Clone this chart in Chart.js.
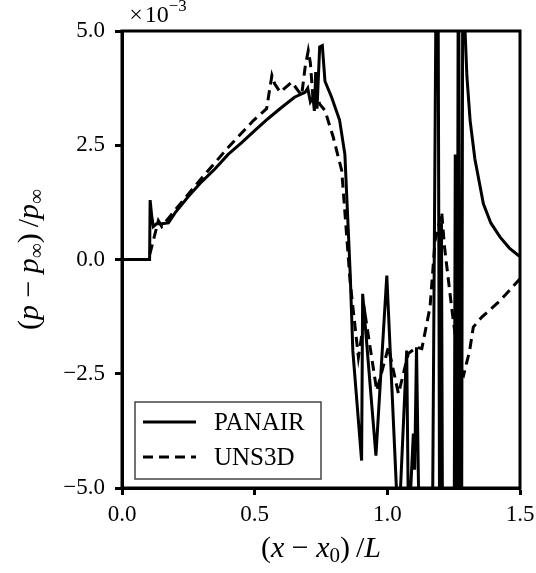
<!DOCTYPE html>
<html>
<head>
<meta charset="utf-8">
<script src="https://cdn.jsdelivr.net/npm/chart.js@4.4.1/dist/chart.umd.min.js"></script>
<style>
  html, body { margin: 0; padding: 0; background: #fff; }
  #wrap { width: 536px; height: 573px; }
</style>
</head>
<body>
<div id="wrap"><canvas id="chart"></canvas></div>
<script>
// values in units of 1e-3
const panairX = [
    0.00, 0.104, 0.106, 0.112, 0.118, 0.13, 0.15, 0.175, 0.20, 0.25, 0.30, 0.35,
    0.40, 0.45, 0.50, 0.55, 0.60, 0.65, 0.69, 0.70, 0.71, 0.72, 0.725, 0.73,
    0.735, 0.745, 0.755, 0.765, 0.79, 0.82, 0.84, 0.85, 0.86, 0.87, 0.903, 0.907,
    0.957, 0.998, 1.042, 1.073, 1.08, 1.098, 1.103, 1.11, 1.12, 1.17, 1.187, 1.19,
    1.197, 1.202, 1.204, 1.208, 1.252, 1.256, 1.258, 1.263, 1.268, 1.274, 1.28, 1.286,
    1.293, 1.30, 1.312, 1.33, 1.362, 1.39, 1.425, 1.46, 1.494, 1.50
];
const panairY = [
    0.00, 0.00, 1.30, 0.95, 0.72, 0.78, 0.78, 0.80, 1.02, 1.38, 1.70, 1.98,
    2.30, 2.55, 2.82, 3.08, 3.32, 3.55, 3.66, 3.75, 3.45, 3.55, 3.25, 4.10,
    3.30, 4.65, 4.68, 3.90, 3.55, 3.05, 2.30, 1.00, -0.30, -2.00, -4.40, -0.75,
    -4.29, -0.35, -6.00, -1.99, -6.00, -3.81, -4.60, -1.92, -6.00, -6.00, 9.00, 9.00,
    -6.00, -6.00, 0.80, -6.00, -6.00, 2.30, -6.00, -6.00, 9.00, -6.00, -6.00, 12.0,
    5.00, 4.00, 3.04, 2.20, 1.22, 0.80, 0.49, 0.25, 0.09, 0.07
];

const unsX = [
    0.00, 0.100, 0.137, 0.15, 0.20, 0.30, 0.40, 0.495, 0.545, 0.565, 0.575, 0.596,
    0.64, 0.677, 0.69, 0.702, 0.71, 0.72, 0.73, 0.745, 0.765, 0.796, 0.828, 0.847,
    0.86, 0.891, 0.916, 0.96, 1.004, 1.042, 1.079, 1.11, 1.13, 1.161, 1.18, 1.205,
    1.215, 1.243, 1.274, 1.287, 1.31, 1.324, 1.356, 1.425, 1.50
];
const unsY = [
    0.00, 0.00, 0.85, 0.72, 1.08, 1.78, 2.45, 3.04, 3.30, 4.03, 3.85, 3.66,
    3.88, 3.59, 4.20, 4.57, 4.30, 3.50, 3.70, 3.40, 3.26, 2.68, 1.95, 0.50,
    -0.50, -2.14, -1.19, -2.87, -1.92, -2.94, -2.06, -1.92, -1.95, -1.04, 0.42, 1.04,
    0.30, -1.08, -2.47, -2.54, -2.00, -1.48, -1.26, -0.90, -0.42
];

const xTicks = [0.0, 0.5, 1.0, 1.5];
const yTicks = [-5.0, -2.5, 0.0, 2.5, 5.0];

const serif = "'Liberation Serif', 'DejaVu Serif', serif";

function pts(xs, ys) {
    return xs.map((x, i) => ({ x: x, y: ys[i] }));
}

function fmt(v) {
    return v.toFixed(1).replace('-', '\u2212');
}

// draw text made of mixed segments, centred on (cx, cy)
function drawRich(ctx, segs, cx, cy, size, angle) {
    ctx.save();
    ctx.translate(cx, cy);
    if (angle) ctx.rotate(angle);
    let total = 0;
    const parts = segs.map(s => {
        if (s.gap) {
            total += s.gap * size;
            return { gap: s.gap * size };
        }
        const fs = (s.sub || s.sup) ? size * 0.7 : size;
        const font = (s.it ? 'italic ' : '') + fs + 'px ' + serif;
        ctx.font = font;
        const w = ctx.measureText(s.t).width;
        total += w;
        return { t: s.t, font: font, w: w, dy: s.sub ? size * 0.25 : (s.sup ? -size * 0.38 : 0) };
    });
    let x = -total / 2;
    ctx.fillStyle = '#000';
    ctx.textBaseline = 'middle';
    ctx.textAlign = 'left';
    parts.forEach(p => {
        if (p.gap) { x += p.gap; return; }
        ctx.font = p.font;
        ctx.fillText(p.t, x, p.dy);
        x += p.w;
    });
    ctx.restore();
}

const decorPlugin = {
    id: 'decor',
    afterDraw(chart) {
        const ctx = chart.ctx;
        const a = chart.chartArea;
        ctx.save();
        // frame
        ctx.strokeStyle = '#000';
        ctx.lineWidth = 3;
        ctx.strokeRect(a.left, a.top, a.right - a.left, a.bottom - a.top);

        // offset text
        drawRich(ctx, [{ t: '\u00d7' }, { gap: 0.08 }, { t: '10' }, { t: '\u22123', sup: true }],
            158, 16, 24, 0);

        // axis titles
        drawRich(ctx, [
            { t: '(' }, { t: 'x', it: true }, { gap: 0.25 }, { t: '\u2212' }, { gap: 0.25 },
            { t: 'x', it: true }, { t: '0', sub: true }, { t: ')' }, { gap: 0.2 }, { t: '/' },
            { t: 'L', it: true }
        ], (a.left + a.right) / 2, 549, 30, 0);
        drawRich(ctx, [
            { t: '(' }, { t: 'p', it: true }, { gap: 0.25 }, { t: '\u2212' }, { gap: 0.25 },
            { t: 'p', it: true }, { t: '\u221e', sub: true }, { t: ')' }, { gap: 0.2 }, { t: '/' },
            { t: 'p', it: true }, { t: '\u221e', sub: true }
        ], 30, (a.top + a.bottom) / 2, 30, -Math.PI / 2);

        // legend
        const bx = 135, by = 402, bw = 186, bh = 77;
        ctx.fillStyle = '#fff';
        ctx.fillRect(bx, by, bw, bh);
        ctx.strokeStyle = '#444';
        ctx.lineWidth = 1.5;
        ctx.strokeRect(bx, by, bw, bh);
        chart.data.datasets.forEach((ds, i) => {
            const ly = by + 20 + i * 35;
            ctx.beginPath();
            ctx.strokeStyle = ds.borderColor;
            ctx.lineWidth = ds.borderWidth;
            ctx.setLineDash(ds.borderDash || []);
            ctx.moveTo(bx + 8, ly);
            ctx.lineTo(bx + 61, ly);
            ctx.stroke();
            ctx.setLineDash([]);
            ctx.fillStyle = '#000';
            ctx.font = '25px ' + serif;
            ctx.textBaseline = 'middle';
            ctx.textAlign = 'left';
            ctx.fillText(ds.label, bx + 79, ly + 1);
        });
        ctx.restore();
    }
};

new Chart(document.getElementById('chart').getContext('2d'), {
    type: 'scatter',
    data: {
        datasets: [{
            label: 'PANAIR',
            data: pts(panairX, panairY),
            showLine: true,
            borderColor: '#000',
            borderWidth: 3,
            pointRadius: 0,
            tension: 0
        }, {
            label: 'UNS3D',
            data: pts(unsX, unsY),
            showLine: true,
            borderColor: '#000',
            borderWidth: 3,
            borderDash: [10, 6],
            pointRadius: 0,
            tension: 0
        }]
    },
    options: {
        responsive: true,
        maintainAspectRatio: false,
        animation: false,
        layout: { padding: { top: 31, right: 16, left: 0, bottom: 0 } },
        plugins: {
            legend: { display: false },
            tooltip: { enabled: false }
        },
        scales: {
            x: {
                type: 'linear',
                min: 0,
                max: 1.5,
                afterFit: s => {
                    s.height = 85;
                    s.paddingLeft = 0;
                    s.paddingRight = 0;
                },
                afterBuildTicks: s => { s.ticks = xTicks.map(v => ({ value: v })); },
                ticks: {
                    callback: v => fmt(v),
                    color: '#000',
                    font: { family: serif, size: 23 },
                    padding: 6,
                    maxRotation: 0
                },
                grid: {
                    drawOnChartArea: false,
                    tickLength: 7,
                    tickWidth: 3,
                    tickColor: '#000'
                },
                border: { color: '#000', width: 3 }
            },
            y: {
                type: 'linear',
                min: -5,
                max: 5,
                afterFit: s => {
                    s.width = 122;
                    s.paddingTop = 0;
                    s.paddingBottom = 0;
                },
                afterBuildTicks: s => { s.ticks = yTicks.map(v => ({ value: v })); },
                ticks: {
                    callback: v => fmt(v),
                    color: '#000',
                    font: { family: serif, size: 23 },
                    padding: 10
                },
                grid: {
                    drawOnChartArea: false,
                    tickLength: 7,
                    tickWidth: 3,
                    tickColor: '#000'
                },
                border: { color: '#000', width: 3 }
            }
        }
    },
    plugins: [decorPlugin]
});
</script>
</body>
</html>
